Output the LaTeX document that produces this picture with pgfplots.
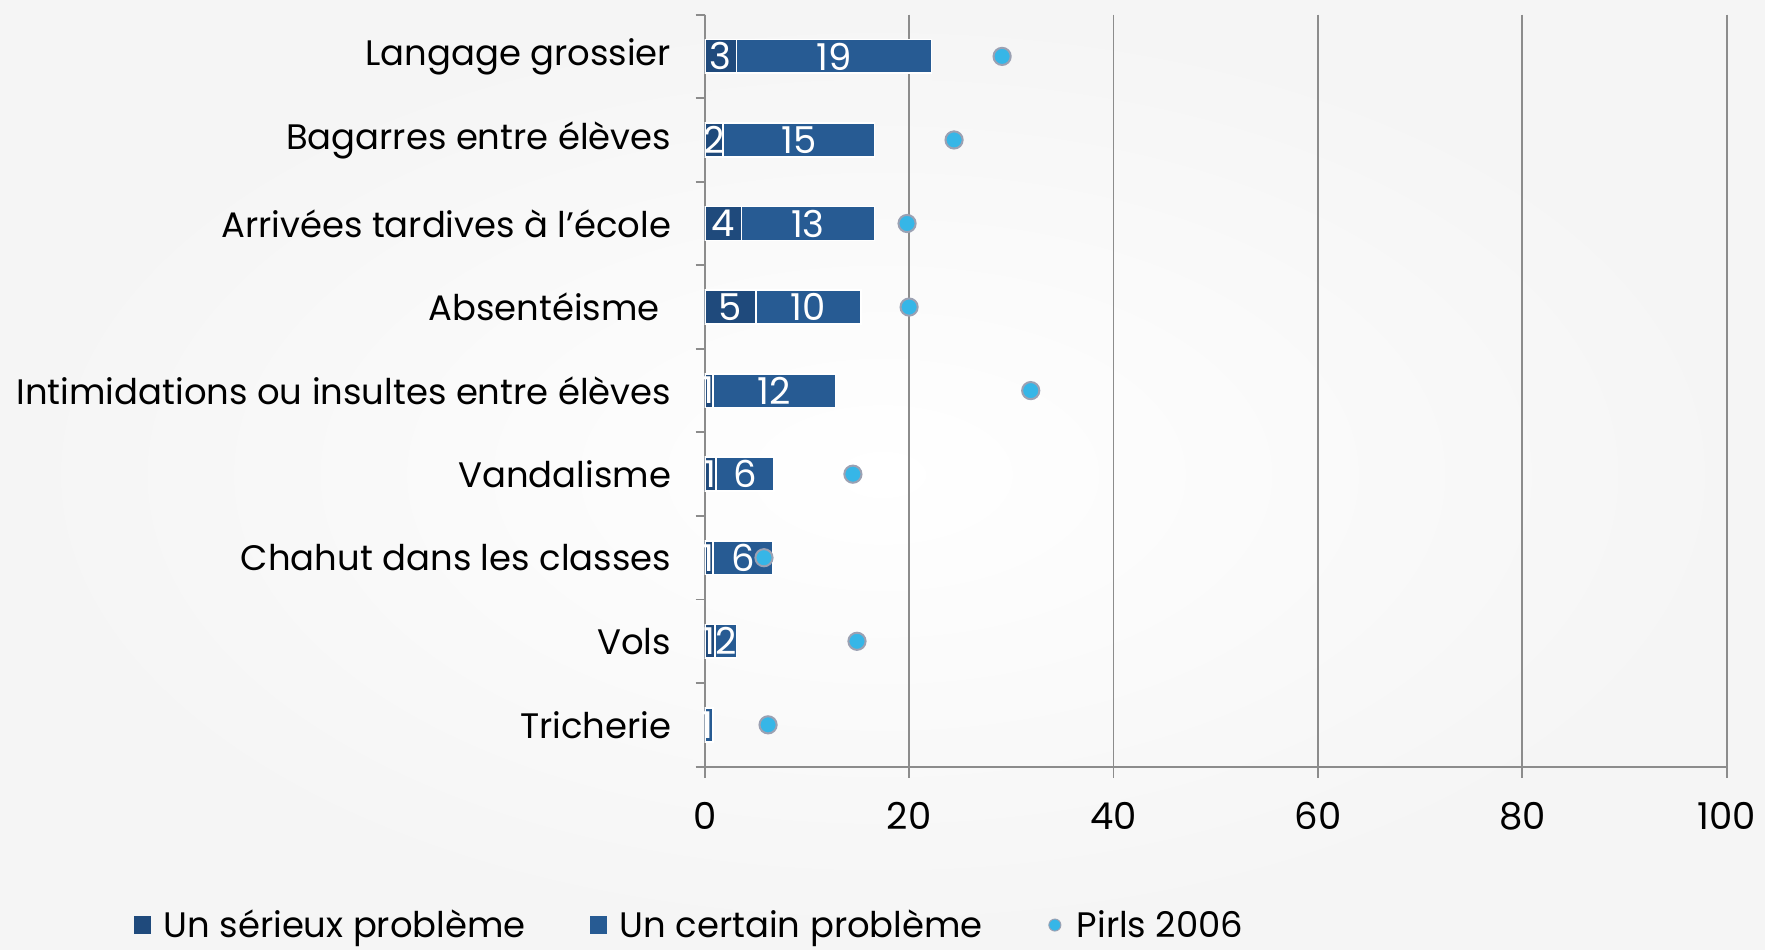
\documentclass[border=0pt]{standalone}
\usepackage{fontspec}
\setmainfont{Poppins}
\usepackage{pgfplots}
\usepackage{pgfplotstable}
\pgfplotsset{compat=1.18}
\definecolor{serieux}{HTML}{1F4A7C}
\definecolor{certain}{HTML}{275B93}
\definecolor{pirls}{HTML}{36B6E7}
\definecolor{pirlsedge}{HTML}{9BA1B3}
\definecolor{gridc}{HTML}{8C8C8C}
\pgfplotstableread{
y ser cer pir
0 3.1 19.1 29.1
1 1.8 14.8 24.4
2 3.6 13.0 19.8
3 5.0 10.3 20.0
4 0.8 12.0 31.9
5 1.1 5.7 14.5
6 0.8 5.9 5.8
7 1.0 2.1 14.9
8 0 0.8 6.2
}\data
\pgfplotstableread{
x y lab
1.55 0 3
12.65 0 19
0.9 1 2
9.2 1 15
1.8 2 4
10.1 2 13
2.5 3 5
10.15 3 10
0.4 4 1
6.8 4 12
0.55 5 1
3.95 5 6
0.4 6 1
3.75 6 6
0.5 7 1
2.05 7 2
0.3 8 1
}\labs
\begin{document}
\begin{tikzpicture}
\shade[inner color=white, outer color=black!4] (0,0) rectangle (882.5pt,474.5pt);
\begin{axis}[
  at={(352.35pt,91.2pt)}, anchor=south west,
  scale only axis, width=511pt, height=376pt,
  xbar stacked, bar width=16.9pt,
  xmin=0, xmax=100, ymin=-0.5, ymax=8.5, y dir=reverse,
  axis x line*=bottom, axis y line*=left,
  axis line style={gridc, line width=0.9pt},
  xtick={0,20,...,100},
  ytick={0,...,8},
  yticklabels={Langage grossier, Bagarres entre élèves, Arrivées tardives à l’école, Absentéisme\hspace*{5.6pt}, Intimidations ou insultes entre élèves, Vandalisme, Chahut dans les classes, Vols, Tricherie},
  minor ytick={-0.5,0.5,...,8.5},
  tick align=outside,
  major tick length=5.6pt, minor tick length=4.5pt,
  every major y tick/.style={draw=none},
  every minor y tick/.style={gridc, line width=0.9pt},
  every major x tick/.style={gridc, line width=0.9pt},
  xmajorgrids, grid style={gridc, line width=0.9pt},
  /pgf/number format/assume math mode=true,
  yticklabel style={font=\fontsize{17.7}{21}\selectfont, black, xshift=-7.7pt},
  xticklabel style={font=\fontsize{18.5}{22}\selectfont, black, yshift=-8.5pt},
  legend style={at={(-0.565,-0.2107)}, anchor=west, legend columns=3, draw=none, fill=none,
    font=\fontsize{17.7}{21}\selectfont,
    /tikz/every even column/.append style={column sep=30pt}},
  legend cell align=left,
  area legend,
  legend image code/.code={\fill[#1, draw=none] (0pt,-4.6pt) rectangle (8.5pt,4.6pt); \path[draw=none, fill=none] (0pt,0pt) rectangle (13pt,0.1pt);},
]
\addplot[fill=serieux, draw=white, line width=0.8pt] table[x=ser, y=y]{\data};
\addlegendentry{Un sérieux problème}
\addplot[fill=certain, draw=white, line width=0.8pt] table[x=cer, y=y]{\data};
\addlegendentry{Un certain problème}
\addlegendimage{legend image code/.code={\fill[pirls, draw=pirlsedge, line width=0.5pt] (4pt,0pt) circle (3pt); \path[draw=none, fill=none] (0pt,0pt) rectangle (13pt,0.1pt);}}
\addlegendentry{Pirls 2006}
\end{axis}
\begin{axis}[
  at={(352.35pt,91.2pt)}, anchor=south west,
  scale only axis, width=511pt, height=376pt,
  xmin=0, xmax=100, ymin=-0.5, ymax=8.5, y dir=reverse,
  hide axis, clip=false,
]
\addplot[draw=none, mark=none, nodes near coords, point meta=explicit symbolic,
  every node near coord/.style={anchor=center, white, font=\fontsize{18.5}{22}\selectfont, inner sep=0pt}]
  table[x=x, y=y, meta=lab]{\labs};
\addplot[only marks, mark=*, mark size=4.3pt, mark options={fill=pirls, draw=pirlsedge, line width=1pt}]
  table[x=pir, y=y]{\data};
\end{axis}
\pgfresetboundingbox
\path (0,0) rectangle (882.5pt,474.5pt);
\end{tikzpicture}
\end{document}
